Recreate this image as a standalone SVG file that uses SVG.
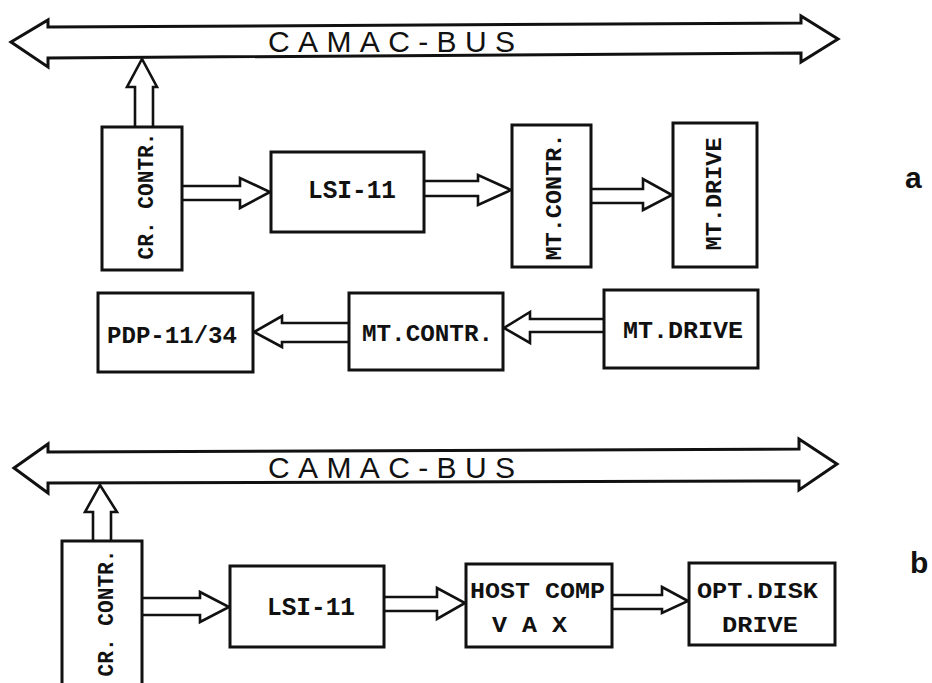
<svg xmlns="http://www.w3.org/2000/svg" width="932" height="683" viewBox="0 0 932 683">
<style>
.box{fill:#fff;stroke:#111;stroke-width:3}
.bus{fill:#fff;stroke:#111;stroke-width:3;stroke-linejoin:miter}
.arr{fill:#fff;stroke:#111;stroke-width:2.6;stroke-linejoin:miter}
.t{font-family:"Liberation Mono",monospace;font-weight:bold;fill:#111}
.bt{font-family:"Liberation Sans",Arial,sans-serif;font-size:30px;fill:#111}
.lbl{font-family:"Liberation Sans",Arial,sans-serif;font-weight:bold;font-size:30px;fill:#111}
</style>
<rect width="932" height="683" fill="#fff"/>
<g id="connectors">
<polygon class="bus" points="11,42 48,20 48,27 801,23 801,16 838,39 801,62 801,53 48,58 48,67"/>
<polygon class="bus" points="14,468 48,444 48,452 799,449 799,439 837,464 799,490 799,481 48,483 48,493"/>
<polyline class="arr" points="135,127 135,87 127,87 142,59 157,87 153,87 153,127"/>
<polyline class="arr" points="93,541 93,512 85,512 100,485 117,512 111,512 111,541"/>
<polyline class="arr" points="182,186 240,186 240,178 270,192 240,208 240,200 182,200"/>
<polyline class="arr" points="424,181 478,181 478,175 511,190 478,205 478,196 424,196"/>
<polyline class="arr" points="591,189 643,189 643,179 672,195 643,210 643,203 591,203"/>
<polyline class="arr" points="349,323 282,323 282,316 254,332 282,347 282,342 349,342"/>
<polyline class="arr" points="604,319 530,319 530,312 504,328 530,343 530,332 604,332"/>
<polyline class="arr" points="142,598 200,598 200,592 229,607 200,622 200,615 142,615"/>
<polyline class="arr" points="384,597 437,597 437,588 465,603 437,619 437,611 384,611"/>
<polyline class="arr" points="612,595 662,595 662,587 688,601 662,613 662,609 612,609"/>
</g>
<g id="bus-a-label"><text class="bt" x="268" y="52" textLength="247" lengthAdjust="spacing">CAMAC-BUS</text></g>
<g id="bus-b-label"><text class="bt" x="268" y="478" textLength="247" lengthAdjust="spacing">CAMAC-BUS</text></g>
<g id="cr-contr-a">
<rect class="box" x="102" y="127" width="80" height="143"/>
<text class="t" font-size="22" transform="translate(145,196) rotate(-90)" x="0" y="8" text-anchor="middle" textLength="127" lengthAdjust="spacingAndGlyphs">CR. CONTR.</text>
</g>
<g id="lsi-11-a">
<rect class="box" x="271" y="152" width="153" height="80"/>
<text class="t" font-size="25" x="352" y="198" text-anchor="middle" textLength="88" lengthAdjust="spacingAndGlyphs">LSI-11</text>
</g>
<g id="mt-contr-a">
<rect class="box" x="512" y="125" width="79" height="142"/>
<text class="t" font-size="22" transform="translate(553,197) rotate(-90)" x="0" y="8" text-anchor="middle" textLength="127" lengthAdjust="spacingAndGlyphs">MT.CONTR.</text>
</g>
<g id="mt-drive-a">
<rect class="box" x="673" y="123" width="84" height="144"/>
<text class="t" font-size="22" transform="translate(713,194) rotate(-90)" x="0" y="8" text-anchor="middle" textLength="113" lengthAdjust="spacingAndGlyphs">MT.DRIVE</text>
</g>
<g id="pdp">
<rect class="box" x="98" y="293" width="155" height="79"/>
<text class="t" font-size="23" x="107" y="343" textLength="130" lengthAdjust="spacingAndGlyphs">PDP-11/34</text>
</g>
<g id="mt-contr-a2">
<rect class="box" x="349" y="293" width="154" height="77"/>
<text class="t" font-size="23" x="362" y="341" textLength="131" lengthAdjust="spacingAndGlyphs">MT.CONTR.</text>
</g>
<g id="mt-drive-a2">
<rect class="box" x="604" y="290" width="154" height="78"/>
<text class="t" font-size="23" x="623" y="338" textLength="120" lengthAdjust="spacingAndGlyphs">MT.DRIVE</text>
</g>
<g id="label-a"><text class="lbl" x="905" y="188">a</text></g>
<g id="cr-contr-b">
<rect class="box" x="62" y="541" width="80" height="160"/>
<text class="t" font-size="22" transform="translate(105,613) rotate(-90)" x="0" y="8" text-anchor="middle" textLength="127" lengthAdjust="spacingAndGlyphs">CR. CONTR.</text>
</g>
<g id="lsi-11-b">
<rect class="box" x="230" y="566" width="154" height="81"/>
<text class="t" font-size="25" x="311" y="615" text-anchor="middle" textLength="88" lengthAdjust="spacingAndGlyphs">LSI-11</text>
</g>
<g id="host-comp">
<rect class="box" x="466" y="564" width="146" height="83"/>
<text class="t" font-size="22" x="470" y="598" textLength="135" lengthAdjust="spacingAndGlyphs">HOST COMP</text>
<text class="t" font-size="22" x="492" y="632" textLength="75" lengthAdjust="spacingAndGlyphs">V A X</text>
</g>
<g id="opt-disk">
<rect class="box" x="689" y="563" width="146" height="82"/>
<text class="t" font-size="22" x="697" y="598" textLength="121" lengthAdjust="spacingAndGlyphs">OPT.DISK</text>
<text class="t" font-size="22" x="722" y="632" textLength="76" lengthAdjust="spacingAndGlyphs">DRIVE</text>
</g>
<g id="label-b"><text class="lbl" x="910" y="573">b</text></g>
</svg>
